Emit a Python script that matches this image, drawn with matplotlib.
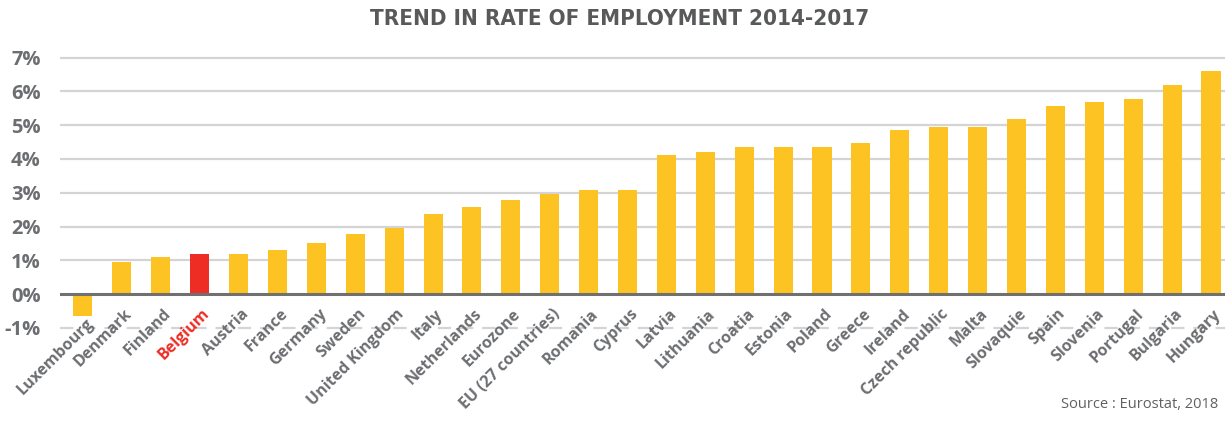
import numpy as np
import matplotlib.pyplot as plt

# Employment rate change 2014-2017, % points
countries = ["Luxembourg", "Denmark", "Finland", "Belgium", "Austria", "France",
             "Germany", "Sweden", "United Kingdom", "Italy", "Netherlands",
             "Eurozone", "EU (27 countries)", "Romania", "Cyprus", "Latvia",
             "Lithuania", "Croatia", "Estonia", "Poland", "Greece", "Ireland",
             "Czech republic", "Malta", "Slovaquie", "Spain", "Slovenia",
             "Portugal", "Bulgaria", "Hungary"]
values = [-0.64, 0.95, 1.09, 1.18, 1.18, 1.30, 1.51, 1.78, 1.95, 2.37, 2.57,
          2.78, 2.97, 3.08, 3.08, 4.11, 4.20, 4.35, 4.35, 4.35, 4.47, 4.85,
          4.94, 4.94, 5.18, 5.56, 5.68, 5.77, 6.18, 6.60]
highlight = "Belgium"
yticks = [-1, 0, 1, 2, 3, 4, 5, 6, 7]

YELLOW = "#fdc323"
RED = "#ee2e24"
GREY = "#6d6e71"
GRID = "#d4d4d4"

label_font = ["Open Sans", "DejaVu Sans"]

fig = plt.figure(figsize=(12.25, 4.21), dpi=100)
ax = fig.add_axes([60 / 1225, 1 - 331.2 / 421, 1 - 60 / 1225, (331.2 - 54.3) / 421])

x = np.arange(len(countries))
colors = [RED if c == highlight else YELLOW for c in countries]
ax.bar(x, values, width=0.49, color=colors, zorder=3)

ax.set_xlim(-0.59, 29.36)
ax.set_ylim(-1.1, 7.1)

# horizontal grid: solid above zero, dashed at -1, dark zero line
for t in yticks:
    if t > 0:
        ax.axhline(t, color=GRID, lw=1.6, zorder=1)
    elif t < 0:
        ax.axhline(t, color=GRID, lw=1.6, ls=(0, (6, 4)), zorder=1)
ax.axhline(0, color="#707070", lw=2.2, zorder=4)

ax.set_yticks(yticks)
ax.set_yticklabels([f"{t}%" for t in yticks], fontsize=14.5, fontweight="bold",
                   color=GREY, family=label_font)
ax.tick_params(axis="y", length=0, pad=14)
ax.set_xticks([])
for s in ax.spines.values():
    s.set_visible(False)

# rotated category labels just under the zero line; negative bars push theirs down
for xi, name, v in zip(x, countries, values):
    y = -0.52 + min(v, 0) * 0.45
    ax.text(xi + 0.2, y, name, rotation=45, rotation_mode="anchor",
            ha="right", va="center", fontsize=11.5, fontweight="bold",
            color=RED if name == highlight else GREY, family=label_font,
            zorder=5)

fig.text(0.506, 0.955, "TREND IN RATE OF EMPLOYMENT 2014-2017", ha="center",
         va="center", fontsize=16, fontweight="bold", fontstretch="condensed",
         color="#58595b", family=["DejaVu Sans"])
fig.text(1218 / 1225, 1 - 408 / 421, "Source : Eurostat, 2018", ha="right",
         va="baseline", fontsize=10.5, color="#5f6062", family=label_font)

fig.savefig("out.png", dpi=100)
